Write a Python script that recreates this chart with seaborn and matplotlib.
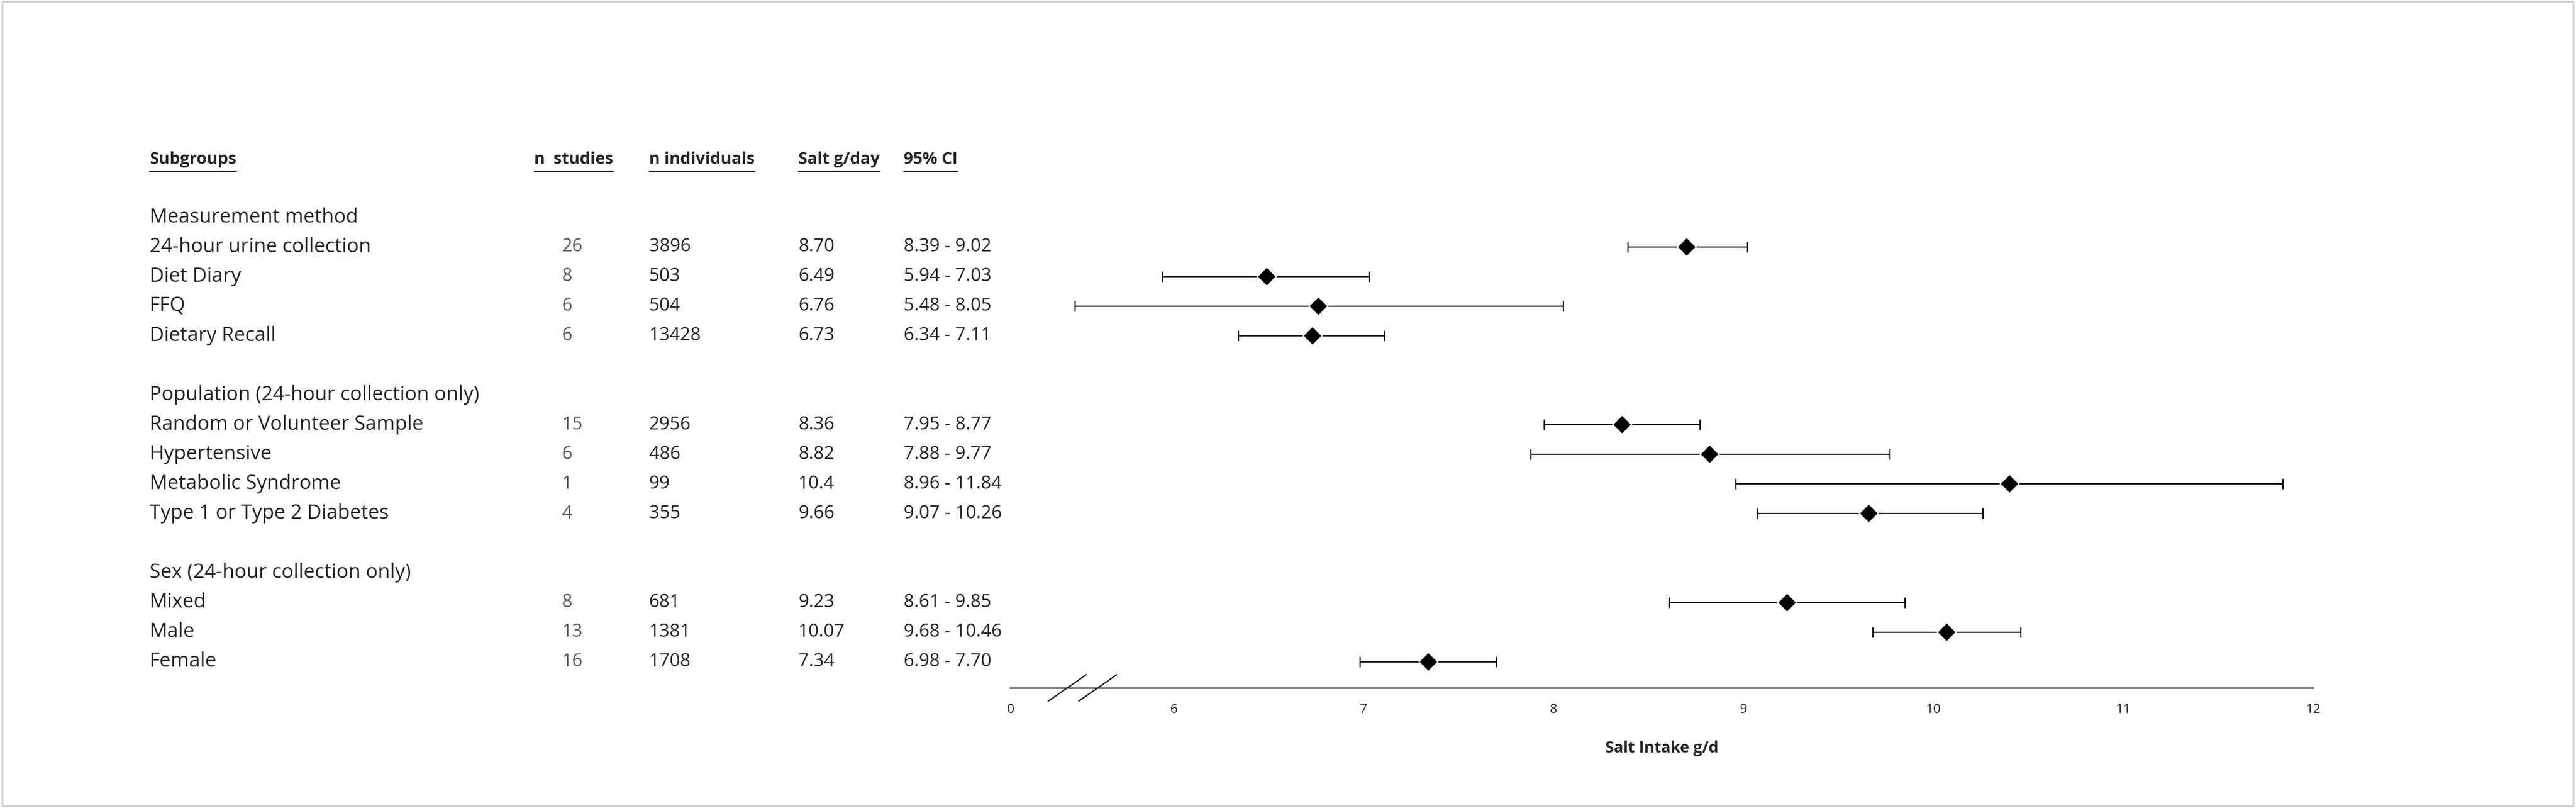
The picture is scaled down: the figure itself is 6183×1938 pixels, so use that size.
import matplotlib
matplotlib.use("Agg")
import matplotlib.pyplot as plt
import seaborn as sns
import pandas as pd
from matplotlib.lines import Line2D
from matplotlib.patches import Rectangle
from matplotlib.transforms import blended_transform_factory

sns.set_style("white")
plt.rcParams['font.family'] = ['Open Sans', 'DejaVu Sans']

groups = ["Measurement method", "Population (24-hour collection only)", "Sex (24-hour collection only)"]
labels = [
    ["24-hour urine collection", "Diet Diary", "FFQ", "Dietary Recall"],
    ["Random or Volunteer Sample", "Hypertensive", "Metabolic Syndrome", "Type 1 or Type 2 Diabetes"],
    ["Mixed", "Male", "Female"],
]
n_studies = [[26, 8, 6, 6], [15, 6, 1, 4], [8, 13, 16]]
n_indiv = [[3896, 503, 504, 13428], [2956, 486, 99, 355], [681, 1381, 1708]]
salt_txt = [["8.70", "6.49", "6.76", "6.73"], ["8.36", "8.82", "10.4", "9.66"], ["9.23", "10.07", "7.34"]]
ci_txt = [["8.39 - 9.02", "5.94 - 7.03", "5.48 - 8.05", "6.34 - 7.11"],
          ["7.95 - 8.77", "7.88 - 9.77", "8.96 - 11.84", "9.07 - 10.26"],
          ["8.61 - 9.85", "9.68 - 10.46", "6.98 - 7.70"]]
lo = [[8.39, 5.94, 5.48, 6.34], [7.95, 7.88, 8.96, 9.07], [8.61, 9.68, 6.98]]
hi = [[9.02, 7.03, 8.05, 7.11], [8.77, 9.77, 11.84, 10.26], [9.85, 10.46, 7.70]]
xticks = [6, 7, 8, 9, 10, 11, 12]
zero_pos = 5.14

W, H = 1568, 491
fig = plt.figure(figsize=(20.61, 6.46), dpi=300)
fig.add_artist(Rectangle((0.001, 0.002), 0.998, 0.996, transform=fig.transFigure,
                         fill=False, edgecolor="#d0d0d0", lw=1))
ax = fig.add_axes([615 / W, 1 - 418 / H, (1408 - 615) / W, (418 - 97) / H])
ax.set_xlim(zero_pos, 12)
ax.set_ylim(418, 97)

rows = []
y = 132
for g in range(3):
    rows.append(dict(kind="head", y=y, label=groups[g]))
    y += 18
    for i in range(len(labels[g])):
        rows.append(dict(kind="row", y=y, label=labels[g][i], ns=n_studies[g][i], ni=n_indiv[g][i],
                         st=salt_txt[g][i], ci=ci_txt[g][i], lo=lo[g][i], hi=hi[g][i],
                         est=float(salt_txt[g][i])))
        y += 18
    y += 18
df = pd.DataFrame([r for r in rows if r["kind"] == "row"])

for _, r in df.iterrows():
    ax.errorbar([r.est], [r.y], xerr=[[r.est - r.lo], [r.hi - r.est]], fmt="none",
                ecolor="black", elinewidth=0.7, capsize=3, capthick=0.7)
sns.scatterplot(data=df, x="est", y="y", marker="D", s=60, color="black", ax=ax, zorder=3)

for s in ["top", "right", "left"]:
    ax.spines[s].set_visible(False)
ax.spines["bottom"].set_linewidth(0.8)
ax.set_yticks([])
ax.set_xticks([zero_pos] + xticks)
ax.set_xticklabels(["0"] + [str(t) for t in xticks], fontsize=7.5)
ax.tick_params(axis="x", length=0, pad=9)
ax.set_xlabel("Salt Intake g/d", fontsize=9, fontweight="bold", labelpad=14)
ax.set_ylabel("")
# axis break marks
for bx in [5.44, 5.6]:
    ax.plot([bx - 0.1, bx + 0.1], [426, 410], color="black", lw=0.7, clip_on=False)

tr = blended_transform_factory(fig.transFigure, ax.transData)
cols = {"label": 91, "ns": 342, "ni": 395, "st": 486, "ci": 550}
for r in rows:
    ax.text(cols["label"] / W, r["y"], r["label"], transform=tr, fontsize=11.5, va="center")
    if r["kind"] == "row":
        ax.text(cols["ns"] / W, r["y"], str(r["ns"]), transform=tr, fontsize=10.5, va="center", color="#595959")
        ax.text(cols["ni"] / W, r["y"], str(r["ni"]), transform=tr, fontsize=10.5, va="center")
        ax.text(cols["st"] / W, r["y"], r["st"], transform=tr, fontsize=10.5, va="center")
        ax.text(cols["ci"] / W, r["y"], r["ci"], transform=tr, fontsize=10.5, va="center")

heads = [(91, "Subgroups"), (325, "n  studies"), (395, "n individuals"), (486, "Salt g/day"), (550, "95% CI")]
htexts = [ax.text(hx / W, 97, ht, transform=tr, fontsize=9.5, fontweight="bold", va="center")
          for hx, ht in heads]
fig.canvas.draw()
rend = fig.canvas.get_renderer()
for t in htexts:
    bb = t.get_window_extent(rend).transformed(fig.transFigure.inverted())
    fig.add_artist(Line2D([bb.x0, bb.x1], [bb.y0 - 0.004, bb.y0 - 0.004],
                          transform=fig.transFigure, color="black", lw=0.7))

fig.savefig("out.png", dpi=300)
